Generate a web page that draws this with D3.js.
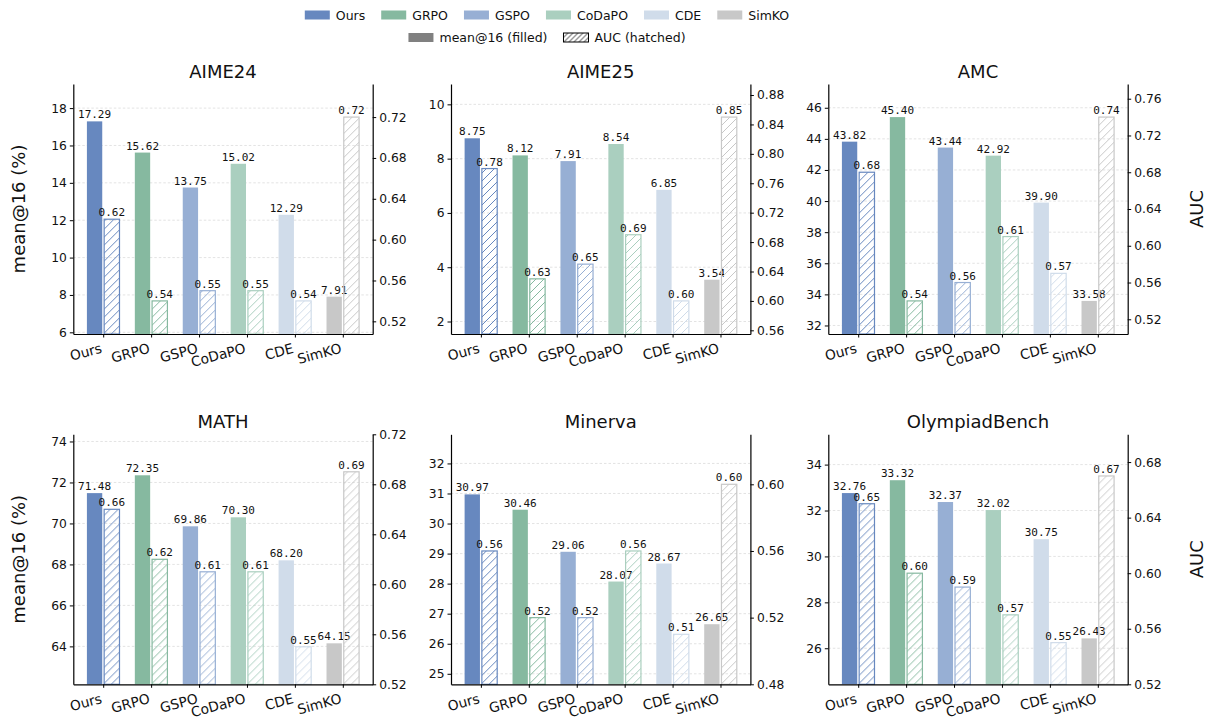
<!DOCTYPE html>
<html>
<head>
<meta charset="utf-8">
<script src="https://cdn.jsdelivr.net/npm/d3@7"></script>
<style>
  body { margin: 0; background: #fff; }
  svg { display: block; font-family: "DejaVu Sans", sans-serif; }
</style>
</head>
<body>
<div id="chart"></div>
<script>
// methods, benchmarks and the values
const methods = ["Ours", "GRPO", "GSPO", "CoDaPO", "CDE", "SimKO"];
const benchmarks = ["AIME24", "AIME25", "AMC", "MATH", "Minerva", "OlympiadBench"];

// mean@16 (%) per benchmark, in method order
const meanAt16 = [
  [17.29, 15.62, 13.75, 15.02, 12.29, 7.91],
  [8.75, 8.12, 7.91, 8.54, 6.85, 3.54],
  [43.82, 45.40, 43.44, 42.92, 39.90, 33.58],
  [71.48, 72.35, 69.86, 70.30, 68.20, 64.15],
  [30.97, 30.46, 29.06, 28.07, 28.67, 26.65],
  [32.76, 33.32, 32.37, 32.02, 30.75, 26.43]
];

// AUC per benchmark, in method order
const aucValues = [
  [0.62, 0.54, 0.55, 0.55, 0.54, 0.72],
  [0.78, 0.63, 0.65, 0.69, 0.60, 0.85],
  [0.68, 0.54, 0.56, 0.61, 0.57, 0.74],
  [0.66, 0.62, 0.61, 0.61, 0.55, 0.69],
  [0.56, 0.52, 0.52, 0.56, 0.51, 0.60],
  [0.65, 0.60, 0.59, 0.57, 0.55, 0.67]
];

// tick steps of the two y axes
const meanTickStep = [2, 2, 2, 2, 1, 2];
const aucTickStep = [0.04, 0.04, 0.04, 0.04, 0.04, 0.04];

const palette = ["#6788bf", "#86b9a0", "#97afd4", "#aacfbf", "#d0dcea", "#c8c8c8"];

const W = 1210, H = 722;
const colX = [73.3, 451, 828.3], rowY = [84, 434.3];
const pw = 299.4, ph = 250;
const barW = 0.32, off = 0.18;

const svg = d3.select("#chart").append("svg")
  .attr("width", W)
  .attr("height", H);

// hatch patterns, one per colour
const defs = svg.append("defs");
function hatch(id, color, size, sw) {
  defs.append("pattern")
    .attr("id", id)
    .attr("patternUnits", "userSpaceOnUse")
    .attr("width", size).attr("height", size)
    .append("path")
    .attr("d", `M${-size / 4},${size / 4} l${size / 2},${-size / 2} M0,${size} l${size},${-size} M${size * 0.75},${size * 1.25} l${size / 2},${-size / 2}`)
    .attr("stroke", color)
    .attr("stroke-width", sw)
    .attr("fill", "none");
}
palette.forEach((c, i) => hatch("h" + i, c, 8, 1));
hatch("hlegend", "#000", 5, 0.8);

function stepTicks(lo, hi, step) {
  const a = Math.ceil(lo / step - 1e-6), b = Math.floor(hi / step + 1e-6);
  return d3.range(a, b + 1).map(k => +(k * step).toFixed(4));
}

function padded(vals, minPad) {
  const lo = d3.min(vals), hi = d3.max(vals);
  const p = Math.max(minPad, 0.18 * (hi - lo));
  return [lo - p, hi + p];
}

benchmarks.forEach((name, b) => {
  const col = b % 3, row = Math.floor(b / 3);
  const g = svg.append("g")
    .attr("transform", `translate(${colX[col]},${rowY[row]})`);

  const x = d3.scaleLinear().domain([-0.624, 5.624]).range([0, pw]);
  const yM = d3.scaleLinear().domain(padded(meanAt16[b], 2)).range([ph, 0]);
  const yA = d3.scaleLinear().domain(padded(aucValues[b], 0.03)).range([ph, 0]);
  const mTicks = stepTicks(...yM.domain(), meanTickStep[b]);
  const aTicks = stepTicks(...yA.domain(), aucTickStep[b]);
  const bw = x(barW) - x(0);

  // grid
  g.append("g").selectAll("line")
    .data(mTicks)
    .join("line")
    .attr("x1", 0).attr("x2", pw)
    .attr("y1", d => yM(d)).attr("y2", d => yM(d))
    .attr("stroke", "#dcdcdc")
    .attr("stroke-width", 0.8)
    .attr("stroke-dasharray", "2.5,2");

  // filled mean@16 bars
  g.append("g").selectAll("rect")
    .data(meanAt16[b])
    .join("rect")
    .attr("x", (d, i) => x(i - off) - bw / 2)
    .attr("width", bw)
    .attr("y", d => yM(d))
    .attr("height", d => ph - yM(d))
    .attr("fill", (d, i) => palette[i]);

  g.append("g").selectAll("text")
    .data(meanAt16[b])
    .join("text")
    .attr("x", (d, i) => x(i - off))
    .attr("y", d => yM(d) - 3)
    .attr("text-anchor", "middle")
    .style("font-family", "'DejaVu Sans Mono', monospace")
    .style("font-size", "11px")
    .attr("fill", "#111")
    .text(d => d3.format(".2f")(d));

  // hatched AUC bars (no fill, drawn over the mean labels)
  g.append("g").selectAll("rect")
    .data(aucValues[b])
    .join("rect")
    .attr("x", (d, i) => x(i + off) - bw / 2)
    .attr("width", bw)
    .attr("y", d => yA(d))
    .attr("height", d => ph - yA(d))
    .attr("fill", (d, i) => `url(#h${i})`)
    .attr("stroke", (d, i) => palette[i])
    .attr("stroke-width", 1.2);

  g.append("g").selectAll("text")
    .data(aucValues[b])
    .join("text")
    .attr("x", (d, i) => x(i + off))
    .attr("y", d => yA(d) - 3)
    .attr("text-anchor", "middle")
    .style("font-family", "'DejaVu Sans Mono', monospace")
    .style("font-size", "11px")
    .attr("fill", "#111")
    .text(d => d3.format(".2f")(d));

  // axes
  const left = g.append("g")
    .call(d3.axisLeft(yM).tickValues(mTicks).tickFormat(d3.format("d"))
      .tickSize(3.5).tickSizeOuter(0).tickPadding(3));
  const right = g.append("g")
    .attr("transform", `translate(${pw},0)`)
    .call(d3.axisRight(yA).tickValues(aTicks).tickFormat(d3.format(".2f"))
      .tickSize(3.5).tickSizeOuter(0).tickPadding(3));
  const bottom = g.append("g")
    .attr("transform", `translate(0,${ph})`)
    .call(d3.axisBottom(x).tickValues(d3.range(methods.length))
      .tickFormat(i => methods[i]).tickSize(3.5).tickSizeOuter(0).tickPadding(3));

  [left, right, bottom].forEach(ax => {
    ax.select(".domain").attr("stroke", "#000").attr("stroke-width", 1.2);
    ax.selectAll(".tick line").attr("stroke", "#000").attr("stroke-width", 1);
    ax.selectAll(".tick text")
      .attr("fill", "#111")
      .style("font-family", "'DejaVu Sans', sans-serif")
      .style("font-size", "12.3px");
  });

  bottom.selectAll(".tick text")
    .attr("text-anchor", "end")
    .attr("dy", null)
    .attr("y", 0)
    .attr("transform", "translate(-1,18.5) rotate(-15)")
    .style("font-size", "13.7px");

  g.append("text")
    .attr("x", pw / 2)
    .attr("y", -6)
    .attr("text-anchor", "middle")
    .style("font-size", "18px")
    .attr("fill", "#111")
    .text(name);
});

// axis titles
rowY.forEach(ry => {
  svg.append("text")
    .attr("transform", `translate(25,${ry + ph / 2}) rotate(-90)`)
    .attr("text-anchor", "middle")
    .style("font-size", "18px")
    .attr("fill", "#111")
    .text("mean@16 (%)");
  svg.append("text")
    .attr("transform", `translate(1203,${ry + ph / 2}) rotate(-90)`)
    .attr("text-anchor", "middle")
    .style("font-size", "18px")
    .attr("fill", "#111")
    .text("AUC");
});

// legend
const legendRows = [
  methods.map((m, i) => ({ label: m, fill: palette[i] })),
  [{ label: "mean@16 (filled)", fill: "#808080" },
   { label: "AUC (hatched)", fill: "url(#hlegend)", stroke: "#000" }]
];
const legendY = [15, 37.5], legendCx = 547;
legendRows.forEach((items, r) => {
  const lg = svg.append("g");
  let cx = 0;
  items.forEach(it => {
    const item = lg.append("g").attr("transform", `translate(${cx},0)`);
    item.append("rect")
      .attr("x", 0).attr("y", -4.5)
      .attr("width", 25).attr("height", 9)
      .attr("fill", it.fill)
      .attr("stroke", it.stroke || "none")
      .attr("stroke-width", 1);
    const t = item.append("text")
      .attr("x", 31).attr("y", 4.5)
      .style("font-size", "12.5px")
      .attr("fill", "#111")
      .text(it.label);
    cx += 31 + t.node().getComputedTextLength() + 16;
  });
  const total = cx - 16;
  lg.attr("transform", `translate(${legendCx - total / 2},${legendY[r]})`);
});
</script>
</body>
</html>
